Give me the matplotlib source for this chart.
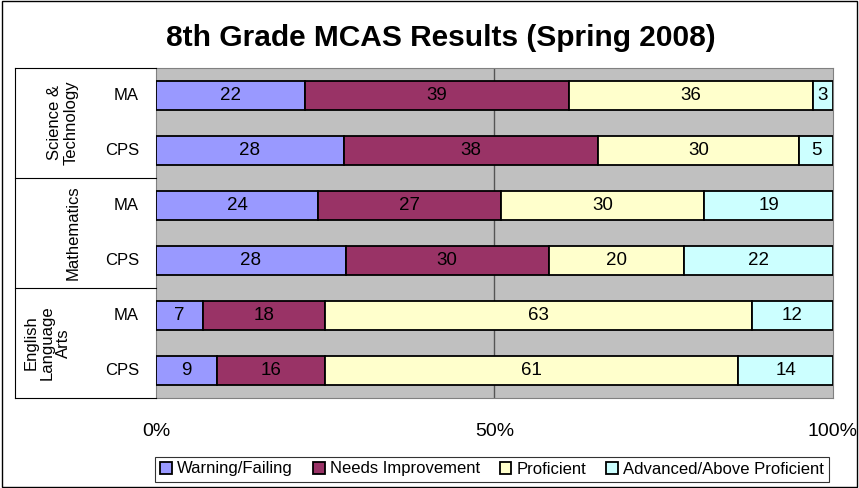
import numpy as np
import matplotlib.pyplot as plt
from matplotlib.patches import Rectangle
from matplotlib.lines import Line2D

plt.rcParams['font.family'] = ['Liberation Sans', 'DejaVu Sans']

# data
groups = ['Science &\nTechnology', 'Mathematics', 'English\nLanguage\nArts']
rows = ['MA', 'CPS', 'MA', 'CPS', 'MA', 'CPS']
levels = ['Warning/Failing', 'Needs Improvement', 'Proficient', 'Advanced/Above Proficient']
warning = [22, 28, 24, 28, 7, 9]
needs = [39, 38, 27, 30, 18, 16]
proficient = [36, 30, 30, 20, 63, 61]
advanced = [3, 5, 19, 22, 12, 14]
colors = ['#9999FF', '#993366', '#FFFFCC', '#CCFFFF']

series = np.array([warning, needs, proficient, advanced], dtype=float)
totals = series.sum(axis=0)
shares = series / totals * 100

fig = plt.figure(figsize=(8.59, 4.88), dpi=100)
ax = fig.add_axes([156/859, 1-398/488, (833-156)/859, (398-68)/488])
ax.set_facecolor('#C0C0C0')

y = np.arange(len(rows))
left = np.zeros(len(rows))
for i in range(4):
    bars = ax.barh(y, shares[i], left=left, height=0.53, color=colors[i],
                   edgecolor='black', linewidth=1.3, label=levels[i], zorder=3)
    for j, b in enumerate(bars):
        ax.text(left[j] + shares[i][j] / 2, y[j], f'{int(series[i][j])}',
                ha='center', va='center', fontsize=13.5, zorder=4)
    left += shares[i]

ax.set_xlim(0, 100)
ax.set_ylim(len(rows) - 0.5, -0.5)
ax.axvline(50, color='#555555', linewidth=1, zorder=1)
ax.set_xticks([0, 50, 100])
ax.set_xticklabels(['0%', '50%', '100%'], fontsize=14)
ax.tick_params(axis='x', length=0, pad=18)
ax.set_yticks([])
for s in ax.spines.values():
    s.set_color('#808080')

# row labels
for j, r in enumerate(rows):
    ax.text(-17/677*100, j, r, ha='right', va='center', fontsize=12,
            transform=ax.transData, clip_on=False)

# left table lines
tl = [(15, 68, 156, 68), (15, 178, 156, 178), (15, 288, 156, 288), (15, 398, 156, 398),
      (15, 68, 15, 398)]
for x0, y0, x1, y1 in tl:
    fig.add_artist(Line2D([x0/859, x1/859], [1-y0/488, 1-y1/488], color='black', linewidth=0.8))

group_x = [63, 73, 47]
for g, gx, gy in zip(groups, group_x, [123, 233, 343]):
    fig.text(gx/859, 1-gy/488, g, rotation=90, ha='center', va='center',
             fontsize=12, multialignment='center', linespacing=1.1)

fig.text(441/859, 1-38/488, '8th Grade MCAS Results (Spring 2008)', fontsize=21.5,
         fontweight='bold', ha='center', va='center')

leg = fig.legend(loc='center', bbox_to_anchor=(492/859, 1-469/488), ncol=4,
                 fontsize=12, frameon=True, fancybox=False, handlelength=0.7,
                 handleheight=0.7, handletextpad=0.3, columnspacing=1.2,
                 borderpad=0.3)
leg.get_frame().set_edgecolor('black')
leg.get_frame().set_linewidth(0.8)

fig.add_artist(Rectangle((0.002, 0.002), 0.996, 0.996, transform=fig.transFigure,
                         fill=False, edgecolor='black', linewidth=1))

fig.savefig('out.png', dpi=100)
